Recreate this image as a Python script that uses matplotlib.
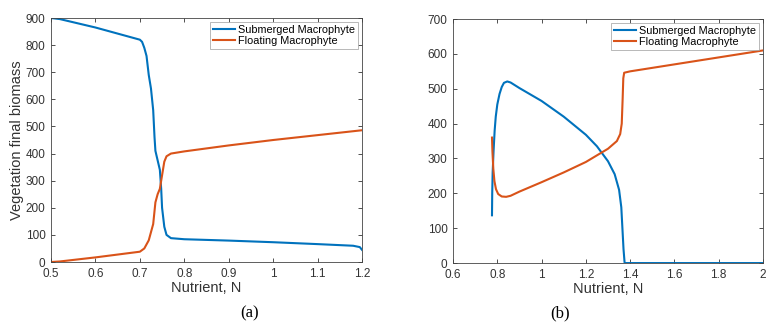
import matplotlib
matplotlib.use("Agg")
import matplotlib.pyplot as plt
import numpy as np

plt.rcParams['font.family'] = ['Liberation Sans', 'DejaVu Sans']

# Panel (a)
a_sub_x = [0.5, 0.52, 0.6, 0.7, 0.705, 0.71, 0.715, 0.72, 0.725, 0.73, 0.733, 0.735, 0.74, 0.745,
           0.748, 0.75, 0.755, 0.76, 0.77, 0.8, 0.9, 1.0, 1.1, 1.18, 1.195, 1.2]
a_sub_y = [900, 896, 865, 820, 812, 790, 760, 690, 640, 560, 460, 410, 375, 340,
           270, 200, 130, 100, 88, 84, 79, 73, 66, 60, 55, 45]
a_flo_x = [0.5, 0.52, 0.6, 0.7, 0.71, 0.72, 0.725, 0.73, 0.735, 0.74, 0.745, 0.75, 0.755,
           0.76, 0.77, 0.8, 0.9, 1.0, 1.1, 1.2]
a_flo_y = [0, 2, 17, 38, 50, 80, 110, 140, 220, 250, 270, 320, 370, 390, 400, 408, 430, 450, 468, 486]

# Panel (b)
b_sub_x = [0.776, 0.777, 0.779, 0.783, 0.788, 0.793, 0.80, 0.81, 0.82, 0.83, 0.845, 0.86, 0.9,
           1.0, 1.1, 1.2, 1.25, 1.3, 1.33, 1.35, 1.36, 1.365, 1.37, 1.375, 2.0]
b_sub_y = [137, 200, 260, 320, 380, 420, 455, 485, 505, 517, 521, 518, 502,
           465, 420, 368, 335, 292, 255, 210, 160, 100, 40, 0, 0]
b_flo_x = [0.776, 0.778, 0.782, 0.787, 0.794, 0.804, 0.82, 0.84, 0.86, 0.9, 1.0, 1.1, 1.2, 1.3,
           1.34, 1.355, 1.362, 1.366, 1.369, 1.373, 1.4, 1.6, 1.8, 2.0]
b_flo_y = [360, 320, 270, 235, 212, 198, 191, 190, 193, 205, 232, 260, 290, 328,
           350, 370, 400, 470, 530, 546, 550, 570, 590, 610]

labels = ['Submerged Macrophyte', 'Floating Macrophyte']
blue = '#0072BD'
orange = '#D95319'
txt = '#333333'

fig = plt.figure(figsize=(7.74, 3.28), dpi=100)
ax1 = fig.add_axes([0.0659, 0.2012, 0.4018, 0.7439])
ax2 = fig.add_axes([0.5853, 0.198, 0.4005, 0.7439])

def style(ax):
    for s in ax.spines.values():
        s.set_color('#444444')
        s.set_linewidth(0.6)
    ax.tick_params(direction='in', top=True, right=True, length=3, width=0.6,
                   labelsize=8.5, colors=txt, pad=4)

ax1.plot(a_sub_x, a_sub_y, color=blue, lw=1.5, label=labels[0])
ax1.plot(a_flo_x, a_flo_y, color=orange, lw=1.5, label=labels[1])
ax1.set_xlim(0.5, 1.2)
ax1.set_ylim(0, 900)
ax1.set_xticks(np.arange(0.5, 1.21, 0.1))
ax1.set_xticklabels(['0.5', '0.6', '0.7', '0.8', '0.9', '1', '1.1', '1.2'])
ax1.set_yticks(np.arange(0, 901, 100))
style(ax1)
ax1.set_xlabel('Nutrient, N', fontsize=10.5, color=txt, labelpad=1)
ax1.set_ylabel('Vegetation final biomass', fontsize=10.5, color=txt, labelpad=1)

ax2.plot(b_sub_x, b_sub_y, color=blue, lw=1.5, label=labels[0])
ax2.plot(b_flo_x, b_flo_y, color=orange, lw=1.5, label=labels[1])
ax2.set_xlim(0.6, 2.0)
ax2.set_ylim(0, 700)
ax2.set_xticks(np.arange(0.6, 2.01, 0.2))
ax2.set_xticklabels(['0.6', '0.8', '1', '1.2', '1.4', '1.6', '1.8', '2'])
ax2.set_yticks(np.arange(0, 701, 100))
style(ax2)
ax2.set_xlabel('Nutrient, N', fontsize=10.5, color=txt, labelpad=1)

for ax in (ax1, ax2):
    leg = ax.legend(loc='upper right', fontsize=7.8, frameon=True, fancybox=False,
                    handlelength=2.0, handletextpad=0.3, borderpad=0.25,
                    labelspacing=0.1, borderaxespad=0.4)
    leg.get_frame().set_edgecolor('#999999')
    leg.get_frame().set_linewidth(0.6)

fig.text(0.322, 0.045, '(a)', fontsize=12, family='Liberation Serif', ha='center', va='center')
fig.text(0.724, 0.045, '(b)', fontsize=12, family='Liberation Serif', ha='center', va='center')

fig.savefig('out.png', dpi=100)
